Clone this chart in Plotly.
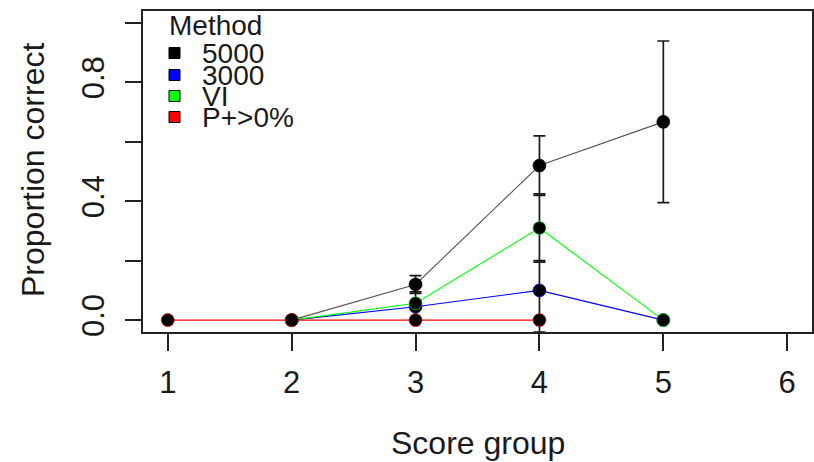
import plotly.graph_objects as go

# ---- data ----
methods = ["5000", "3000", "VI", "P+>0%"]
colors = ["#000000", "#0000FF", "#00FF00", "#FF0000"]

x_5000 = [2, 3, 4, 5]
y_5000 = [0.0, 0.12, 0.52, 0.667]
eup_5000 = [0.0, 0.03, 0.10, 0.272]
elo_5000 = [0.0, 0.03, 0.10, 0.272]

x_3000 = [2, 3, 4, 5]
y_3000 = [0.0, 0.045, 0.10, 0.0]
eup_3000 = [0.0, 0.05, 0.10, 0.0]
elo_3000 = [0.0, 0.05, 0.14, 0.0]

x_vi = [2, 3, 4, 5]
y_vi = [0.0, 0.057, 0.31, 0.0]
eup_vi = [0.0, 0.0, 0.115, 0.0]
elo_vi = [0.0, 0.0, 0.115, 0.0]

x_p = [1, 2, 3, 4]
y_p = [0.0, 0.0, 0.0, 0.0]
eup_p = [0.0, 0.0, 0.0, 0.0]
elo_p = [0.0, 0.0, 0.0, 0.0]

x_ticks = [1, 2, 3, 4, 5, 6]
y_ticks = [0.0, 0.2, 0.4, 0.6, 0.8, 1.0]
y_ticktext = ["0.0", "", "0.4", "", "0.8", ""]

series = [
    (x_5000, y_5000, eup_5000, elo_5000),
    (x_3000, y_3000, eup_3000, elo_3000),
    (x_vi, y_vi, eup_vi, elo_vi),
    (x_p, y_p, eup_p, elo_p),
]

FONT = "Liberation Sans, Arial, sans-serif"
W, H = 814, 462
ML, MR, MT, MB = 143, 2, 11, 130

fig = go.Figure()

# error bars (only where non-zero)
for (xs, ys, eu, el) in series:
    ex = [x for x, u, l in zip(xs, eu, el) if u > 0 or l > 0]
    ey = [y for y, u, l in zip(ys, eu, el) if u > 0 or l > 0]
    eeu = [u for u, l in zip(eu, el) if u > 0 or l > 0]
    eel = [l for u, l in zip(eu, el) if u > 0 or l > 0]
    if ex:
        fig.add_trace(go.Scatter(
            x=ex, y=ey, mode="markers", marker=dict(size=1, opacity=0),
            error_y=dict(type="data", symmetric=False, array=eeu, arrayminus=eel,
                         color="#1a1a1a", thickness=1.7, width=6),
            hoverinfo="skip"))

# lines
for (xs, ys, eu, el), c, name in zip(series, colors, methods):
    fig.add_trace(go.Scatter(x=xs, y=ys, mode="lines", name=name,
                             line=dict(color="#555555" if c == "#000000" else c, width=1.1)))

# points
for (xs, ys, eu, el), c, name in zip(series, colors, methods):
    fig.add_trace(go.Scatter(x=xs, y=ys, mode="markers", name=name,
                             marker=dict(color="black", size=13,
                                         line=dict(color=c, width=0.6))))

# legend built from annotations + shapes
def px_x(p):
    return (p - ML) / (W - ML - MR)

def px_y(p):
    return (H - MB - p) / (H - MT - MB)

ann = [dict(text="Method", x=px_x(167), y=px_y(25), xref="paper", yref="paper",
            xanchor="left", yanchor="middle", showarrow=False,
            font=dict(size=28, color="#1a1a1a", family=FONT))]
shapes = []
row_y = [53, 75, 96, 117]
for name, c, ry in zip(methods, colors, row_y):
    ann.append(dict(text=name, x=px_x(200), y=px_y(ry), xref="paper", yref="paper",
                    xanchor="left", yanchor="middle", showarrow=False,
                    font=dict(size=28, color="#1a1a1a", family=FONT)))
    shapes.append(dict(type="rect", xref="paper", yref="paper",
                       x0=px_x(169), x1=px_x(180), y0=px_y(ry + 5.5), y1=px_y(ry - 5.5),
                       fillcolor=c, line=dict(color="black", width=1)))

# axis titles
ann.append(dict(text="Score group", x=0.5, y=px_y(443), xref="paper", yref="paper",
                xanchor="center", yanchor="middle", showarrow=False,
                font=dict(size=32, color="#1a1a1a", family=FONT)))
ann.append(dict(text="Proportion correct", x=px_x(33), y=px_y(170), xref="paper", yref="paper",
                xanchor="center", yanchor="middle", showarrow=False, textangle=-90,
                font=dict(size=32, color="#1a1a1a", family=FONT)))

fig.update_layout(
    width=W, height=H,
    margin=dict(l=ML, r=MR, t=MT, b=MB, autoexpand=False),
    plot_bgcolor="white", paper_bgcolor="white",
    showlegend=False,
    font=dict(family=FONT, color="#1a1a1a"),
    annotations=ann, shapes=shapes,
    xaxis=dict(range=[0.8, 6.2], tickvals=x_ticks, ticks="outside", ticklen=17,
               tickwidth=1.5, tickcolor="#222", showline=True, linewidth=1.5,
               linecolor="#222", mirror=True, showgrid=False, zeroline=False,
               tickfont=dict(size=31), ticklabelstandoff=5, automargin=False),
    yaxis=dict(range=[-0.04, 1.04], tickvals=y_ticks, ticktext=y_ticktext,
               ticks="outside", ticklen=16, tickwidth=1.5, tickcolor="#222",
               showline=True, linewidth=1.5, linecolor="#222", mirror=True,
               showgrid=False, zeroline=False, tickangle=-90,
               tickfont=dict(size=31), ticklabelstandoff=9, automargin=False),
)

fig.write_html("out.html", config={"displayModeBar": False},
               post_script="document.body.style.margin='0px';document.body.style.overflow='hidden';")
